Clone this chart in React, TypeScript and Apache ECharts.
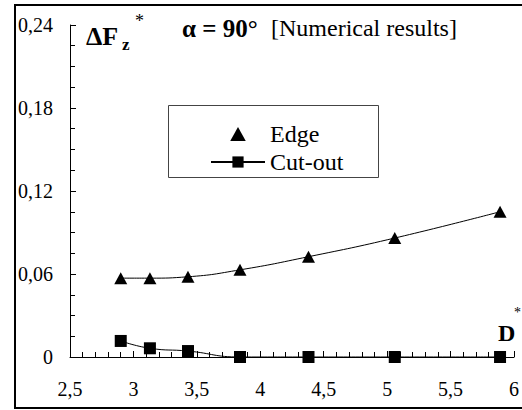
import React, { useEffect, useRef } from "react";
import * as echarts from "echarts";

const dValues = [2.9, 3.13, 3.43, 3.84, 4.38, 5.06, 5.89];
const edgeValues = [0.057, 0.057, 0.058, 0.063, 0.0725, 0.086, 0.105];
const cutoutValues = [0.0116, 0.0063, 0.0043, 0.0, 0.0, 0.0, 0.0];
const seriesNames = ["Edge", "Cut-out"];

const FONT = "Liberation Serif";

export default function App() {
  const ref = useRef<HTMLDivElement>(null);
  useEffect(() => {
    if (!ref.current) return;
    const chart = echarts.init(ref.current, null, { renderer: "svg" });
    const comma = (v: number) => String(+v.toFixed(4)).replace(".", ",");
    chart.setOption({
      animation: false,
      backgroundColor: "#ffffff",
      textStyle: { fontFamily: FONT },
      grid: { left: 70, top: 25, width: 449, height: 332, containLabel: false },
      xAxis: {
        type: "value",
        min: 2.5,
        max: 6,
        interval: 0.5,
        axisLine: { show: true, onZero: false, lineStyle: { color: "#000", width: 1 } },
        axisTick: { show: true, inside: true, length: 6, lineStyle: { color: "#000" } },
        minorTick: { show: true, splitNumber: 5, length: 5, lineStyle: { color: "#000" } },
        splitLine: { show: false },
        axisLabel: {
          color: "#000",
          fontSize: 20,
          fontFamily: FONT,
          margin: 22,
          formatter: comma,
        },
      },
      yAxis: {
        type: "value",
        min: 0,
        max: 0.24,
        interval: 0.06,
        axisLine: { show: true, lineStyle: { color: "#000", width: 1 } },
        axisTick: { show: true, inside: true, length: 6, lineStyle: { color: "#000" } },
        minorTick: { show: true, splitNumber: 4, length: 5, lineStyle: { color: "#000" } },
        splitLine: { show: false },
        axisLabel: {
          color: "#000",
          fontSize: 20,
          fontFamily: FONT,
          margin: 17,
          formatter: comma,
        },
      },
      legend: {
        orient: "vertical",
        left: 205,
        top: 117,
        itemWidth: 54,
        itemHeight: 14,
        itemGap: 4,
        textStyle: { color: "#000", fontSize: 24, fontFamily: FONT, lineHeight: 24 },
        data: [
          { name: seriesNames[0], icon: "path://M5,0L10,9L0,9Z" },
          { name: seriesNames[1] },
        ],
      },
      series: [
        {
          name: seriesNames[0],
          type: "line",
          smooth: true,
          data: dValues.map((d, i) => [d, edgeValues[i]]),
          symbol: "triangle",
          symbolSize: [13, 12],
          itemStyle: { color: "#000" },
          lineStyle: { color: "#000", width: 1 },
        },
        {
          name: seriesNames[1],
          type: "line",
          smooth: true,
          data: dValues.map((d, i) => [d, cutoutValues[i]]),
          symbol: "rect",
          symbolSize: 12,
          itemStyle: { color: "#000" },
          lineStyle: { color: "#000", width: 1 },
        },
      ],
      graphic: [
        {
          type: "rect",
          shape: { x: 15, y: 5, width: 520, height: 403 },
          style: { fill: "none", stroke: "#000", lineWidth: 2 },
          silent: true,
        },
        {
          type: "rect",
          shape: { x: 168.5, y: 105.5, width: 210, height: 72 },
          style: { fill: "none", stroke: "#444", lineWidth: 1 },
          silent: true,
        },
        {
          type: "text",
          x: 182,
          y: 28,
          style: {
            text: "α = 90°",
            fontFamily: FONT,
            fontSize: 25,
            fontWeight: "bold",
            fill: "#000",
            verticalAlign: "middle",
          },
        },
        {
          type: "text",
          x: 271,
          y: 28,
          style: {
            text: "[Numerical results]",
            fontFamily: FONT,
            fontSize: 24,
            fill: "#000",
            verticalAlign: "middle",
          },
        },
        {
          type: "text",
          x: 86,
          y: 36,
          style: {
            text: "ΔF",
            fontFamily: FONT,
            fontSize: 26,
            fontWeight: "bold",
            fill: "#000",
            verticalAlign: "middle",
          },
        },
        {
          type: "text",
          x: 122,
          y: 44,
          style: {
            text: "z",
            fontFamily: FONT,
            fontSize: 17,
            fontWeight: "bold",
            fill: "#000",
            verticalAlign: "middle",
          },
        },
        {
          type: "text",
          x: 135,
          y: 21,
          style: {
            text: "*",
            fontFamily: FONT,
            fontSize: 18,
            fill: "#000",
            verticalAlign: "middle",
          },
        },
        {
          type: "text",
          x: 498,
          y: 333,
          style: {
            text: "D",
            fontFamily: FONT,
            fontSize: 24,
            fontWeight: "bold",
            fill: "#000",
            verticalAlign: "middle",
          },
        },
        {
          type: "text",
          x: 514,
          y: 312,
          style: {
            text: "*",
            fontFamily: FONT,
            fontSize: 14,
            fill: "#000",
            verticalAlign: "middle",
          },
        },
      ],
    });
    return () => chart.dispose();
  }, []);
  return (
    <div
      ref={ref}
      style={{ position: "fixed", left: 0, top: 0, width: 522, height: 410 }}
    />
  );
}
